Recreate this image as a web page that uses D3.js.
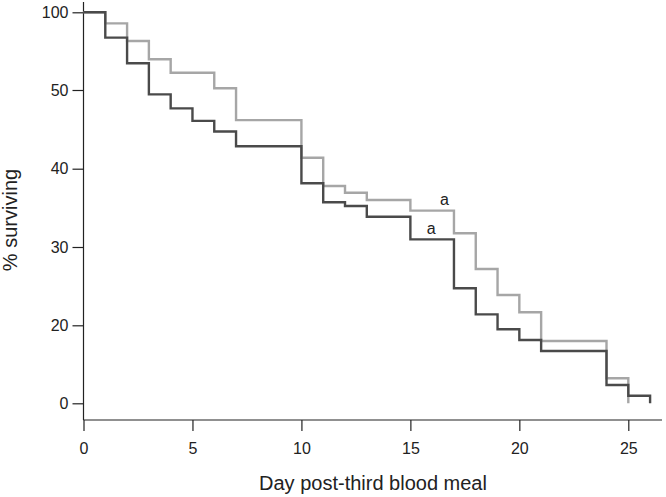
<!DOCTYPE html>
<html>
<head>
<meta charset="utf-8">
<script src="https://cdn.jsdelivr.net/npm/d3@7"></script>
<style>
  html, body { margin: 0; padding: 0; background: #fff; }
  svg { display: block; font-family: "Liberation Sans", Arial, sans-serif; }
</style>
</head>
<body>
<svg id="chart" width="666" height="497"></svg>
<script>
// ---- data ----
const lightDays   = [0, 1, 2, 3, 4, 6, 7, 10, 11, 12, 13, 15, 17, 18, 19, 20, 21, 24, 25];
const lightValues = [100, 92.9, 81.5, 69.8, 61.1, 51.1, 46.17, 41.4, 37.79, 36.93, 36.0, 34.64, 31.75, 27.19, 23.87, 21.66, 15.97, 6.41, 0];

const darkDays    = [0, 1, 2, 3, 4, 5, 6, 7, 10, 11, 12, 13, 15, 17, 18, 19, 20, 21, 24, 25, 26];
const darkValues  = [100, 83.7, 67.2, 49.45, 47.66, 46.08, 44.73, 42.85, 38.14, 35.71, 35.24, 33.87, 30.98, 24.73, 21.4, 18.97, 16.23, 13.41, 4.69, 1.95, 0];

const xTicks = [0, 5, 10, 15, 20, 25];
const yTicks = [0, 20, 30, 40, 50, 100];

const annotLabels = ["a", "a"];
const annotDays   = [16.56, 15.95];
const annotValues = [36.1, 32.39];

const xTitle = "Day post-third blood meal";
const yTitle = "% surviving";

// ---- layout ----
const svg = d3.select("#chart");
const x = d3.scaleLinear().domain([0, 25]).range([83.5, 628.3]);
// broken (piecewise) y axis as in the reference
const y = d3.scaleLinear()
  .domain([0, 20, 30, 40, 50, 100])
  .range([403.3, 325.3, 247, 168.7, 90, 12.3]);

const axisY0 = 420;   // x-axis line position
const axisX0 = 83.5;  // y-axis line position

// x axis
const gx = svg.append("g")
  .attr("transform", `translate(0,${axisY0})`)
  .call(d3.axisBottom(x).tickValues(xTicks).tickSize(11).tickSizeOuter(0).tickPadding(12));
gx.select(".domain").remove();
gx.append("line").attr("x1", axisX0).attr("x2", 662).attr("y1", 0).attr("y2", 0)
  .attr("stroke", "#222").attr("stroke-width", 1.2);
gx.selectAll(".tick line").attr("stroke", "#222").attr("stroke-width", 1.2);
gx.selectAll(".tick text").attr("font-size", 16).attr("fill", "#222")
  .attr("font-family", "Liberation Sans, Arial, sans-serif");

// y axis
const gy = svg.append("g")
  .attr("transform", `translate(${axisX0},0)`)
  .call(d3.axisLeft(y).tickValues(yTicks).tickSize(11).tickSizeOuter(0).tickPadding(4));
gy.select(".domain").remove();
gy.append("line").attr("x1", 0).attr("x2", 0).attr("y1", 2).attr("y2", axisY0)
  .attr("stroke", "#222").attr("stroke-width", 1.2);
gy.selectAll(".tick line").attr("stroke", "#222").attr("stroke-width", 1.2);
gy.selectAll(".tick text").attr("font-size", 16).attr("fill", "#222")
  .attr("font-family", "Liberation Sans, Arial, sans-serif");

// lines
const line = d3.line().curve(d3.curveStepAfter).x(d => x(d[0])).y(d => y(d[1]));
svg.append("path")
  .datum(lightDays.map((d, i) => [d, lightValues[i]]))
  .attr("d", line).attr("fill", "none")
  .attr("stroke", "#a6a6a6").attr("stroke-width", 2.4);
svg.append("path")
  .datum(darkDays.map((d, i) => [d, darkValues[i]]))
  .attr("d", line).attr("fill", "none")
  .attr("stroke", "#4a4a4a").attr("stroke-width", 2.4);

// annotations
svg.selectAll("text.annot")
  .data(annotLabels.map((t, i) => ({ t, d: annotDays[i], v: annotValues[i] })))
  .enter().append("text")
  .attr("class", "annot")
  .attr("x", d => x(d.d)).attr("y", d => y(d.v))
  .attr("dy", "0.35em")
  .attr("text-anchor", "middle")
  .attr("font-size", 16).attr("fill", "#222")
  .text(d => d.t);

// axis titles
svg.append("text")
  .attr("x", 373).attr("y", 490)
  .attr("text-anchor", "middle")
  .attr("font-size", 20).attr("fill", "#222")
  .text(xTitle);
svg.append("text")
  .attr("transform", "translate(17,220) rotate(-90)")
  .attr("text-anchor", "middle")
  .attr("font-size", 20).attr("fill", "#222")
  .text(yTitle);
</script>
</body>
</html>
